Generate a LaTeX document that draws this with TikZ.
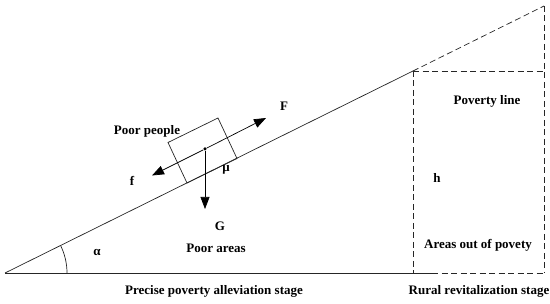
\documentclass[tikz,border=0pt]{standalone}
\usepackage{fontspec}
\setmainfont{Liberation Serif}
\usetikzlibrary{arrows.meta,calc}
\begin{document}
\begin{tikzpicture}[x=1pt,y=-1pt,
  lbl/.style={font=\bfseries\fontsize{13}{15}\selectfont, inner sep=0pt},
  thin line/.style={line width=0.7pt, black!85},
  dash line/.style={line width=0.7pt, black!85, dash pattern=on 6pt off 3.5pt},
  force/.style={line width=0.7pt, -{Triangle[length=12pt,width=9pt]}}]
\useasboundingbox (0,0) rectangle (550,304);
% key points
\coordinate (O) at (5,273);
\coordinate (P) at (413,71);
\coordinate (T) at (544,6);
\coordinate (B1) at (432,273);
\coordinate (B2) at (544,273);
\coordinate (Pb) at (413,273);
% incline and base
\draw[thin line] (O) -- (P);
\draw[dash line] (P) -- (T);
\draw[thin line] (O) -- (B1);
\draw[dash line] (B1) -- (B2);
% dashed rectangle
\draw[dash line] (P) -- (Pb);
\draw[dash line] (T) -- (B2);
\draw[dash line] (P) -- (T |- P);
% angle arc
\draw[thin line] (67,273) arc[start angle=0, end angle=-26.3, radius=62];
% box
\draw[thin line] (187,183) -- (237,158.5) -- (218,118) -- (168,142.5) -- cycle;
\node[circle, fill=black, inner sep=0pt, minimum size=3.5pt] (dot) at (205,149) {};
\coordinate (Fend) at (266,118);
\coordinate (fend) at (152,175.5);
\coordinate (Gend) at (205,209);
\draw[force] (dot) -- (Fend);
\draw[force] (dot) -- (fend);
\draw[force] (dot) -- (Gend);
% labels
\node[lbl] (pp) at (147,131) {Poor people};
\node[lbl] (F) at (284,106) {F};
\node[lbl] (f) at (132,181) {f};
\node[lbl] (mu) at (226,170) {μ};
\node[lbl] (G) at (220,226) {G};
\node[lbl] (al) at (97,253) {α};
\node[lbl] (pa) at (216,248) {Poor areas};
\node[lbl] (h) at (437,178) {h};
\node[lbl] (pl) at (487,101) {Poverty line};
\node[lbl] (ao) at (478,245) {Areas out of povety};
\node[lbl] (ps) at (214,291) {Precise poverty alleviation stage};
\node[lbl] (rr) at (479,291) {Rural revitalization stage};
\end{tikzpicture}
\end{document}
